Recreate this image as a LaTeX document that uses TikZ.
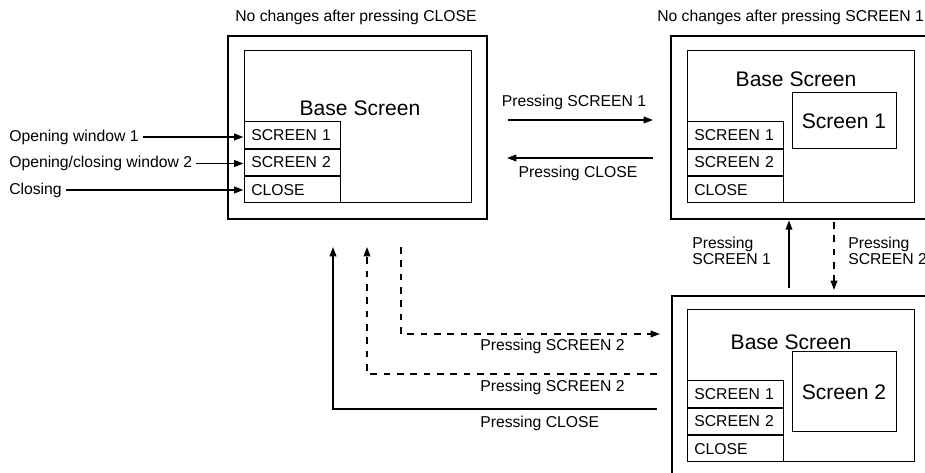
\documentclass[tikz,border=0pt]{standalone}
\usepackage{fontspec}
\setmainfont{Liberation Sans}
\usetikzlibrary{arrows.meta,positioning,fit}
\newcommand{\lbltxt}{\fontsize{11.8}{12}\selectfont}
\newcommand{\bigtxt}{\fontsize{15.8}{18}\selectfont}
\tikzset{
  outerbox/.style={draw, line width=2pt, inner sep=0pt},
  innerbox/.style={draw, line width=0.75pt, inner sep=0pt},
  btn/.style={draw, line width=0.75pt, minimum height=19.75pt, text width=61pt, inner xsep=5.5pt, inner ysep=0pt, align=left, font=\lbltxt},
  lab/.style={font=\lbltxt, inner sep=0pt},
  bigl/.style={font=\bigtxt, inner sep=0pt},
  arr/.style={-{Triangle[length=7pt,width=5pt]}, line width=1.1pt},
  dasharr/.style={arr, dash pattern=on 5pt off 5pt},
}
\begin{document}
\begin{tikzpicture}[x=0.75pt, y=-0.75pt, node distance=0pt]
\path[use as bounding box] (0,0) rectangle (925,473);
\clip (0,0) rectangle (925,473);

% Base screen only
\node[outerbox, fit={(228,36) (487,219)}] (dA) {};
\node[innerbox, fit={(244,51) (471,203)}] (iA) {};
\node[bigl] (tA) at (360,108) {Base Screen};
\node[btn, anchor=south west] (clA) at (iA.south west) {CLOSE};
\node[btn, above=of clA] (s2A) {SCREEN 2};
\node[btn, above=of s2A] (s1A) {SCREEN 1};
\node[lab] (hA) at (356,17) {No changes after pressing CLOSE};

% inputs
\node[lab, anchor=west] (op1) at (9,137) {Opening window 1};
\node[lab, anchor=west] (op2) at (9,163.5) {Opening/closing window 2};
\node[lab, anchor=west] (cls) at (9,190) {Closing};
\draw[arr, shorten <=3pt] (op1.east) -- (op1.east -| s1A.west);
\draw[arr, shorten <=3pt] (op2.east) -- (op2.east -| s2A.west);
\draw[arr, shorten <=3pt] (cls.east) -- (cls.east -| clA.west);

% Base screen + Screen 1
\node[outerbox, fit={(671,36) (940,219)}] (dB) {};
\node[innerbox, fit={(687,51) (914,203)}] (iB) {};
\node[bigl] (tB) at (796,79) {Base Screen};
\node[innerbox, fit={(792,93) (896,149)}] (wB) {};
\node[bigl] at (wB) {Screen 1};
\node[btn, anchor=south west] (clB) at (iB.south west) {CLOSE};
\node[btn, above=of clB] (s2B) {SCREEN 2};
\node[btn, above=of s2B] (s1B) {SCREEN 1};
\node[lab, anchor=west] (hB) at (657,17) {No changes after pressing SCREEN 1};

% Base screen + Screen 2
\node[outerbox, fit={(672,296) (940,490)}] (dC) {};
\node[innerbox, fit={(687,310) (914,462)}] (iC) {};
\node[bigl] (tC) at (791,342) {Base Screen};
\node[innerbox, fit={(792,352) (896,432)}] (wC) {};
\node[bigl] at (wC) {Screen 2};
\node[btn, anchor=south west] (clC) at (iC.south west) {CLOSE};
\node[btn, above=of clC] (s2C) {SCREEN 2};
\node[btn, above=of s2C] (s1C) {SCREEN 1};

% A <-> B
\coordinate (ab1) at (508,120);
\coordinate (ab2) at (653,120);
\coordinate (ba1) at (653,158);
\coordinate (ba2) at (507,158);
\draw[arr] (ab1) -- (ab2);
\draw[arr] (ba1) -- (ba2);
\node[lab] at (574,102) {Pressing SCREEN 1};
\node[lab] at (578,173) {Pressing CLOSE};

% B <-> C
\coordinate (cb) at (789,288);
\coordinate (bc1) at (834,222);
\coordinate (bc2) at (834,290);
\draw[arr] (cb) -- (cb |- dB.south);
\draw[dasharr] (bc1) -- (bc2);
\node[lab, align=left, anchor=west] at (692,251) {Pressing\\SCREEN 1};
\node[lab, align=left, anchor=west] at (848,251) {Pressing\\SCREEN 2};

% A <-> C
\coordinate (ca1) at (657,409);
\coordinate (ca2) at (333,247);
\coordinate (cc1) at (657,374);
\coordinate (cc2) at (367,247);
\coordinate (ac1) at (401,247);
\coordinate (ac2) at (660,334);
\draw[arr] (ca1) -| (ca2);
\draw[dasharr] (cc1) -| (cc2);
\draw[dasharr] (ac1) |- (ac2);
\node[lab, anchor=west] at (480,346) {Pressing SCREEN 2};
\node[lab, anchor=west] at (480,387) {Pressing SCREEN 2};
\node[lab, anchor=west] at (480,423) {Pressing CLOSE};
\end{tikzpicture}
\end{document}
